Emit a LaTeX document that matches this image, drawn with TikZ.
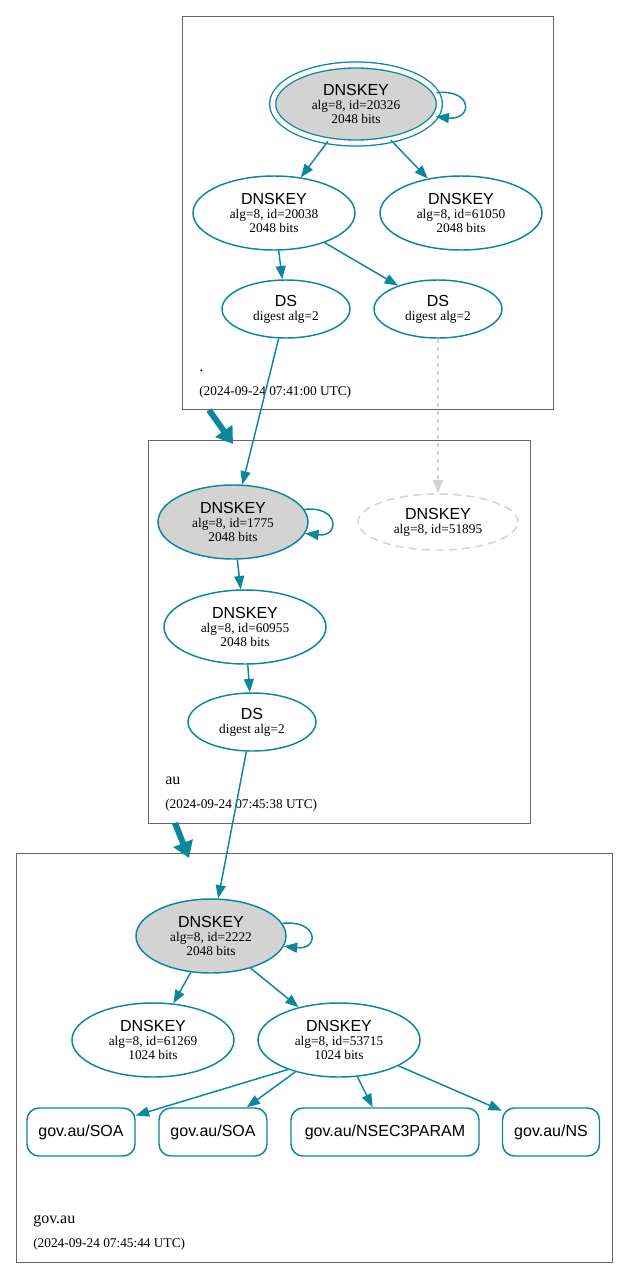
\documentclass[tikz,border=0pt]{standalone}
\usepackage{fontspec}
\setmainfont{Liberation Serif}
\newfontfamily\helv{Liberation Sans}
\usetikzlibrary{shapes.geometric,arrows.meta}
\definecolor{dnsteal}{HTML}{0A879A}
\definecolor{keygray}{HTML}{D3D3D3}
\newcommand{\kname}{{\helv\fontsize{12}{12}\selectfont DNSKEY}}
\newcommand{\dsname}{{\helv\fontsize{12}{12}\selectfont DS}}

\begin{document}
\begin{tikzpicture}[>={Triangle[length=10pt,width=7.5pt]},x=0.75pt,y=-0.75pt,
	key/.style={ellipse,draw=dnsteal,line width=1.1pt,minimum width=121.5pt,minimum height=55.5pt,inner sep=0pt,align=center,font=\fontsize{10}{10.5}\selectfont},
	sep/.style={key,fill=keygray,minimum width=112.5pt},
	dsnode/.style={key,minimum width=96pt,minimum height=43.5pt},
	rrset/.style={draw=dnsteal,line width=1.1pt,rounded corners=9pt,minimum height=36pt,inner sep=0pt,font=\helv\fontsize{12}{12}\selectfont},
	edge/.style={draw=dnsteal,line width=1.1pt,->},
	zone/.style={draw=black!60,line width=0.75pt},
	zonearrow/.style={draw=dnsteal,line width=4.5pt,-{Triangle[length=12pt,width=15pt]}},
	zname/.style={anchor=base west,inner sep=0pt,font=\fontsize{12}{14}\selectfont},
	zstamp/.style={anchor=base west,inner sep=0pt,font=\fontsize{10}{12}\selectfont}]
		\useasboundingbox (0,0) rectangle (628,1278);
		% zone boxes
		\draw[zone] (182,16) rectangle (553,409);
		\draw[zone] (148,440) rectangle (530,823);
		\draw[zone] (16,853) rectangle (612,1262);
		\node[zname] (rootname) at (199,371) {.};
		\node[zstamp] (rootstamp) at (199,395) {(2024-09-24 07:41:00 UTC)};
		\node[zname] (auname) at (165,784) {au};
		\node[zstamp] (austamp) at (165,808) {(2024-09-24 07:45:38 UTC)};
		\node[zname] (govname) at (33,1223) {gov.au};
		\node[zstamp] (govstamp) at (33,1247) {(2024-09-24 07:45:44 UTC)};
		% root
		\node[sep,minimum width=125pt,minimum height=58.5pt,double,double distance=3.5pt,line width=1pt] (k20326) at (356,104) {\kname\\alg=8, id=20326\\2048 bits};
		\node[key] (k20038) at (274,213) {\kname\\alg=8, id=20038\\2048 bits};
		\node[key] (k61050) at (461,213) {\kname\\alg=8, id=61050\\2048 bits};
		\node[dsnode] (ds1) at (286,309) {\dsname\\digest alg=2};
		\node[dsnode] (ds2) at (438,309) {\dsname\\digest alg=2};
		% au
		\node[sep] (k1775) at (233,522) {\kname\\alg=8, id=1775\\2048 bits};
		\node[key,draw=keygray,dash pattern=on 6pt off 4pt,minimum width=120pt,minimum height=42pt] (k51895) at (438,522) {\kname\\alg=8, id=51895};
		\node[key] (k60955) at (245,627) {\kname\\alg=8, id=60955\\2048 bits};
		\node[dsnode] (ds3) at (252,722) {\dsname\\digest alg=2};
		% gov.au
		\node[sep] (k2222) at (211,936) {\kname\\alg=8, id=2222\\2048 bits};
		\node[key] (k61269) at (153,1040) {\kname\\alg=8, id=61269\\1024 bits};
		\node[key] (k53715) at (339,1040) {\kname\\alg=8, id=53715\\1024 bits};
		\node[rrset,minimum width=81pt] (soa1) at (81,1132) {gov.au/SOA};
		\node[rrset,minimum width=81pt] (soa2) at (213,1132) {gov.au/SOA};
		\node[rrset,minimum width=141pt] (nsec) at (385,1132) {gov.au/NSEC3PARAM};
		\node[rrset,minimum width=72.75pt] (ns) at (551,1132) {gov.au/NS};
		% edges
		\draw[edge] (k20326.8) .. controls +(37,-4) and +(37,4) .. (k20326.-9);
		\draw[edge] (k20326) -- (k20038);
		\draw[edge] (k20326) -- (k61050);
		\draw[edge] (k20038) -- (ds1);
		\draw[edge] (k20038) -- (ds2);
		\draw[edge] (ds1) -- (k1775);
		\draw[edge,draw=keygray,dashed,-{Triangle[length=10pt,width=7.5pt,fill=keygray]}] (ds2) -- (k51895);
		\draw[edge] (k1775.10) .. controls +(35,-4) and +(35,4) .. (k1775.-9);
		\draw[edge] (k1775) -- (k60955);
		\draw[edge] (k60955) -- (ds3);
		\draw[edge] (ds3) -- (k2222);
		\draw[edge] (k2222.10) .. controls +(36,-4) and +(36,4) .. (k2222.-8);
		\draw[edge] (k2222) -- (k61269);
		\draw[edge] (k2222) -- (k53715);
		\draw[edge] (k53715.-150) -- (soa1);
		\draw[edge] (k53715) -- (soa2);
		\draw[edge] (k53715) -- (nsec);
		\draw[edge] (k53715) -- (ns);
		% zone to zone
		\coordinate (rootout) at (209,410);
		\coordinate (auin) at (233,444);
		\coordinate (auout) at (175,823);
		\coordinate (govin) at (189,858);
		\draw[zonearrow] (rootout) -- (auin);
		\draw[zonearrow] (auout) -- (govin);
\end{tikzpicture}
\end{document}
